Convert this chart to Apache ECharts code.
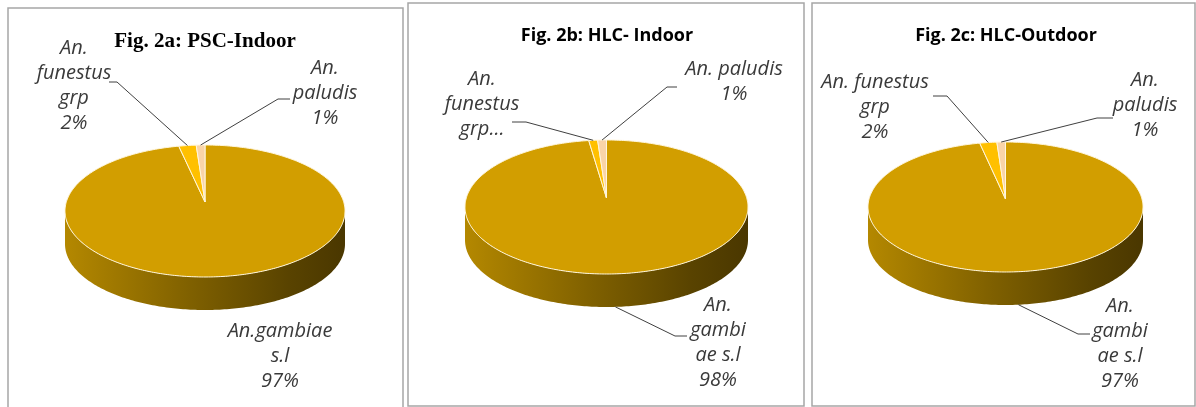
<!DOCTYPE html>
<html>
<head>
<meta charset="utf-8">
<script src="https://cdn.jsdelivr.net/npm/echarts@6/dist/echarts.min.js"></script>
<style>
html,body{margin:0;padding:0;background:#fff;}
#chart{width:1196px;height:407px;}
</style>
</head>
<body>
<div id="chart"></div>
<script>
// ---------------- data ----------------
const panelTitles = ['Fig. 2a: PSC-Indoor', 'Fig. 2b: HLC- Indoor', 'Fig. 2c: HLC-Outdoor'];
const species = ['An. gambiae s.l', 'An. funestus grp', 'An. paludis'];
const pscIndoor = [97, 2, 1];
const hlcIndoor = [98, 1, 1];
const hlcOutdoor = [97, 2, 1];
// label text as wrapped in each panel (percentage appended when shown)
const labelsPscIndoor = ['An.gambiae\ns.l', 'An.\nfunestus\ngrp', 'An.\npaludis'];
const labelsHlcIndoor = ['An.\ngambi\nae s.l', 'An.\nfunestus\ngrp...', 'An. paludis'];
const labelsHlcOutdoor = ['An.\ngambi\nae s.l', 'An. funestus\ngrp', 'An.\npaludis'];
const showPctHlcIndoor = [true, false, true];
const sliceColors = ['#D29E00', '#FFC000', '#F9D4A8'];

// ---------------- layout ----------------
const panels = [
  { values: pscIndoor, labels: labelsPscIndoor, showPct: [true, true, true],
    box: [8, 8, 395, 420], title: { x: 205, y: 42, font: 'bold 21px "Liberation Serif"', fill: '#000' },
    cx: 205, cy: 211, rx: 140, ry: 66, depth: 33, apexDy: -9,
    lab: [
      { x: 280, y: 356, leader: null },
      { x: 74, y: 85.5, leader: [[109, 82], [117, 82]] },
      { x: 325, y: 93, leader: [[290, 99], [278, 99]] }
    ] },
  { values: hlcIndoor, labels: labelsHlcIndoor, showPct: showPctHlcIndoor,
    box: [408, 3, 396, 403], title: { x: 607, y: 36, font: 'bold 18px "Open Sans"', fill: '#000' },
    cx: 606.5, cy: 207, rx: 141.5, ry: 67, depth: 33, apexDy: -9,
    lab: [
      { x: 718, y: 342.5, leader: [[687, 336], [675, 336]] },
      { x: 482, y: 104, leader: [[512, 122], [526, 122]] },
      { x: 734, y: 81.5, leader: [[677, 87], [667, 87]] }
    ] },
  { values: hlcOutdoor, labels: labelsHlcOutdoor, showPct: [true, true, true],
    box: [812, 3, 383, 403], title: { x: 1006, y: 36, font: 'bold 18px "Open Sans"', fill: '#000' },
    cx: 1005.5, cy: 207, rx: 137.5, ry: 65, depth: 33, apexDy: -8,
    lab: [
      { x: 1120, y: 343.5, leader: [[1090, 334], [1078, 334]] },
      { x: 875, y: 107.5, leader: [[933, 96], [947, 96]] },
      { x: 1145, y: 105, leader: [[1113, 118], [1097, 118]] }
    ] }
];

const sideGradient = {
  type: 'linear', x: 0, y: 0, x2: 1, y2: 0,
  colorStops: [
    { offset: 0, color: '#B48800' },
    { offset: 0.45, color: '#7F6000' },
    { offset: 0.8, color: '#594300' },
    { offset: 1, color: '#4A3700' }
  ]
};

function makeRender(p) {
  const total = p.values.reduce((a, b) => a + b, 0);
  const rad = d => d * Math.PI / 180;
  const pt = (deg, dy) => [p.cx + p.rx * Math.sin(rad(deg)), p.cy - p.ry * Math.cos(rad(deg)) + dy];
  const arc = (s, e, dy) => {
    const pts = [];
    const n = Math.max(2, Math.ceil((e - s) / 1));
    for (let k = 0; k <= n; k++) pts.push(pt(s + (e - s) * k / n, dy));
    return pts;
  };
  return function (params, api) {
    const i = params.dataIndex;
    const v = api.value(0);
    let before = 0;
    for (let k = 0; k < i; k++) before += p.values[k];
    const start = before / total * 360;
    const end = start + v / total * 360;
    const children = [];
    // side wall (front half only)
    const s = Math.max(start, 90), e = Math.min(end, 270);
    if (s < e) {
      const top = arc(s, e, 0);
      const bot = arc(s, e, p.depth).reverse();
      children.push({ type: 'polygon', z2: 1, shape: { points: top.concat(bot) },
        style: { fill: i === 0 ? sideGradient : sliceColors[i], stroke: null } });
    }
    // top face
    const apex = [p.cx, p.cy + p.apexDy];
    children.push({ type: 'polygon', z2: 10, shape: { points: [apex].concat(arc(start, end, 0)) },
      style: { fill: sliceColors[i], stroke: '#FFF6DC', lineWidth: 1 } });
    // label
    const L = p.lab[i];
    const pct = Math.round(v / total * 100);
    const txt = p.labels[i] + (p.showPct[i] ? '\n' + pct + '%' : '');
    children.push({ type: 'text', z2: 30,
      style: { text: txt, x: L.x, y: L.y, align: 'center', verticalAlign: 'middle',
        font: 'italic 20px "Open Sans"', fill: '#3A3A3A', lineHeight: 25 } });
    if (L.leader) {
      const mid = (start + end) / 2;
      const front = mid > 90 && mid < 270;
      const anchor = pt(mid, front ? p.depth : 0);
      children.push({ type: 'polyline', z2: 20,
        shape: { points: [L.leader[0], L.leader[1], anchor] },
        style: { stroke: '#404040', lineWidth: 1, fill: null } });
    }
    return { type: 'group', children: children };
  };
}

const graphics = [];
panels.forEach((p, idx) => {
  graphics.push({ type: 'rect', z: -1, shape: { x: p.box[0], y: p.box[1], width: p.box[2], height: p.box[3] },
    style: { fill: null, stroke: '#A6A6A6', lineWidth: 1.5 } });
  graphics.push({ type: 'text', style: { text: panelTitles[idx], x: p.title.x, y: p.title.y,
    align: 'center', verticalAlign: 'middle', font: p.title.font, fill: p.title.fill } });
});

const chart = echarts.init(document.getElementById('chart'), null, { renderer: 'canvas' });
chart.setOption({
  animation: false,
  backgroundColor: '#fff',
  graphic: graphics,
  series: panels.map((p, idx) => ({
    type: 'custom',
    name: panelTitles[idx],
    coordinateSystem: 'none',
    silent: true,
    data: p.values.map((v, k) => ({ name: species[k], value: [v] })),
    renderItem: makeRender(p)
  }))
});
</script>
</body>
</html>
